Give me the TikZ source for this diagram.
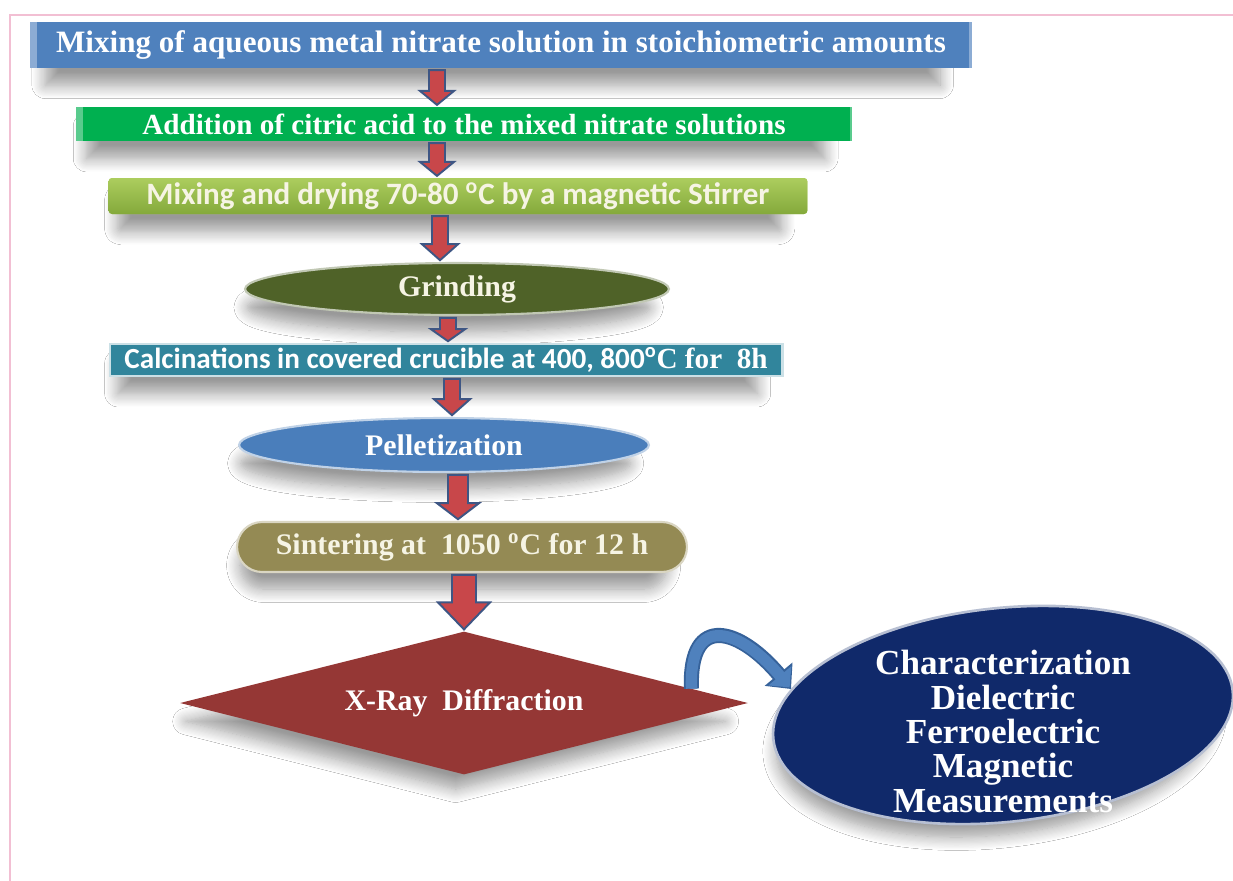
\documentclass[tikz,border=0pt]{standalone}
\usepackage{fontspec}
\setmainfont{Liberation Serif}
\newfontfamily\calfont{Carlito}
\usepackage{tikz}
\usetikzlibrary{shapes.geometric, arrows.meta, positioning, calc, shadows.blur}
\usepackage{xcolor}
\definecolor{cFrame}{HTML}{F2BFD3}
\definecolor{cMixBlue}{HTML}{4F81BD}
\definecolor{cCitGreen}{HTML}{00B050}
\definecolor{cDryTop}{HTML}{ACCD5E}
\definecolor{cDryBot}{HTML}{84A93B}
\definecolor{cGrind}{HTML}{4F6228}
\definecolor{cCalc}{HTML}{31859C}
\definecolor{cPellet}{HTML}{4A7EBB}
\definecolor{cSinter}{HTML}{948A54}
\definecolor{cXrd}{HTML}{953735}
\definecolor{cNavy}{HTML}{10296A}
\definecolor{cArrowRed}{HTML}{C8474A}
\definecolor{cArrowEdge}{HTML}{3E5684}
\definecolor{cCurve}{HTML}{4F81BD}
\definecolor{cCurveEdge}{HTML}{36629A}
\definecolor{cCream}{HTML}{F6F4E4}
\tikzset{
  softshadow/.style={
    blur shadow={shadow xshift=-5pt, shadow yshift=-11pt, shadow blur radius=8pt,
      shadow blur steps=12, shadow opacity=40, shadow scale=0.95},
  },
  stepbox/.style={
    rectangle, fill=#1, inner sep=0pt, text=white,
    font=\bfseries\fontsize{17.7}{20}\selectfont, softshadow,
  },
  bevel/.style={
    path picture={
      \fill[white, opacity=.35] (path picture bounding box.south west)
        rectangle ([xshift=4pt]path picture bounding box.north west);
      \fill[white, opacity=.35] (path picture bounding box.south east)
        rectangle ([xshift=-1.5pt]path picture bounding box.north east);
    },
  },
  ovalnode/.style={
    ellipse, fill=#1, draw=#1!35!white, line width=1.2pt, inner sep=0pt,
    text=white, font=\bfseries\fontsize{17}{20}\selectfont, softshadow,
  },
  flowarw/.style={fill=cArrowRed, draw=cArrowEdge, line width=1.1pt, line join=miter},
}

% block arrow: column x, from, to, shaft half, head half, head length (px)
\newcommand{\blockarrow}[6]{%
  \filldraw[flowarw] let \p1=(#2.south), \p2=(#3.north), \p3=(#1,0) in
    ({\x3-#4*0.02cm},{\y1-1pt}) -- ({\x3+#4*0.02cm},{\y1-1pt})
    -- ({\x3+#4*0.02cm},{\y2+1pt+#6*0.02cm}) -- ({\x3+#5*0.02cm},{\y2+1pt+#6*0.02cm})
    -- ({\x3},{\y2+1pt}) -- ({\x3-#5*0.02cm},{\y2+1pt+#6*0.02cm})
    -- ({\x3-#4*0.02cm},{\y2+1pt+#6*0.02cm}) -- cycle;
}

\begin{document}
\begin{tikzpicture}[x=0.02cm, y=-0.02cm]
  \useasboundingbox (0,0) rectangle (1233,880);
  \fill[white] (0,0) rectangle (1233,880);
  \draw[cFrame, line width=1.2pt] (10,15) rectangle (1260,900);

  % process steps
  \node[stepbox=cMixBlue, bevel, minimum width=18.84cm, minimum height=0.92cm]
    (mix) at (501,45) {Mixing of aqueous metal nitrate solution in stoichiometric amounts};
  \node[stepbox=cCitGreen, bevel, minimum width=15.54cm, minimum height=0.68cm,
        font=\bfseries\fontsize{16.6}{19}\selectfont]
    (cit) at (464,124) {Addition of citric acid to the mixed nitrate solutions};
  \node[stepbox=cDryTop, top color=cDryTop, bottom color=cDryBot, rounded corners=2pt,
        minimum width=13.98cm, minimum height=0.72cm, text=cCream,
        font=\calfont\bfseries\fontsize{17.7}{19}\selectfont]
    (dry) at (458,196) {Mixing and drying 70-80 \textsuperscript{o}C by a magnetic Stirrer};
  \node[ovalnode=cGrind, minimum width=8.48cm, minimum height=1.04cm, text=cCream]
    (grind) at (457,289) {Grinding};
  \node[stepbox=cCalc, draw=cCalc!25!white, line width=1.2pt,
        minimum width=13.46cm, minimum height=0.64cm,
        font=\calfont\bfseries\fontsize{16.6}{18}\selectfont]
    (calc) at (446,360) {Calcinations in covered crucible at 400, 800\textsuperscript{o}{\rmfamily C for~~8h}};
  \node[ovalnode=cPellet, minimum width=8.2cm, minimum height=1.08cm]
    (pell) at (444,445) {Pelletization};
  \node[stepbox=cSinter, draw=cSinter!35!white, line width=1.2pt, rounded corners=0.5cm,
        minimum width=9cm, minimum height=1cm, text=cCream,
        font=\bfseries\fontsize{17}{20}\selectfont]
    (sint) at (462,547) {Sintering at~~1050 \textsuperscript{o}C for 12 h};

  % XRD and characterization
  \node[diamond, aspect=4, fill=cXrd, inner sep=0pt, minimum width=11.36cm,
        minimum height=2.86cm, text=white, font=\bfseries\fontsize{17}{20}\selectfont,
        softshadow]
    (xrd) at (464,703) {X-Ray~~Diffraction};
  \node[ellipse, fill=cNavy, draw=cNavy!30!white, line width=1.5pt, rotate=6,
        minimum width=9.24cm, minimum height=4.28cm, softshadow]
    (charz) at (1003,715) {};
  \node[text=white, align=center, font=\bfseries\fontsize{20}{19.5}\selectfont]
    (charzText) at ([yshift=-0.33cm]charz.center) {Characterization\\Dielectric\\Ferroelectric\\Magnetic\\Measurements};

  % flow arrows
  \blockarrow{437}{mix}{cit}{8}{17}{14}
  \blockarrow{437}{cit}{dry}{8}{17}{14}
  \blockarrow{440}{dry}{grind}{8}{18}{16}
  \blockarrow{448}{grind}{calc}{8}{17}{12}
  \blockarrow{452}{calc}{pell}{8}{18}{16}
  \blockarrow{458}{pell}{sint}{10}{21}{16}
  \blockarrow{464}{sint}{xrd}{12}{26}{27}

  % curved arrow to characterization
  \draw[cCurveEdge, line width=8.6pt, -{Triangle[width=20pt, length=11pt]}]
    ($(xrd.east)!0.2!(xrd.north)$) to[out=92, in=130, looseness=2] (charz.167);
  \draw[cCurve, line width=6.4pt, shorten >=1.2pt, -{Triangle[width=16.5pt, length=8.6pt]}]
    ($(xrd.east)!0.2!(xrd.north)$) to[out=92, in=130, looseness=2] (charz.167);
\end{tikzpicture}
\end{document}
